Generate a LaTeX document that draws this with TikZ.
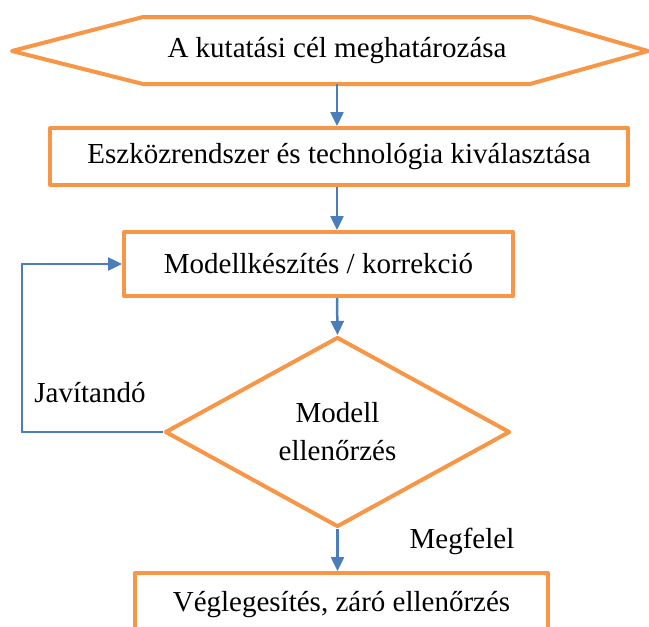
\documentclass[tikz,border=0pt]{standalone}
\usepackage{fontspec}
\setmainfont{Liberation Serif}
\usetikzlibrary{arrows.meta,shapes.geometric}
\definecolor{orng}{HTML}{F79646}
\definecolor{blu}{HTML}{4A7EBB}
\begin{document}
\begin{tikzpicture}[x=1pt,y=-1pt,
  txt/.style={font=\fontsize{29}{38}\selectfont,inner sep=0pt,align=center},
  frame/.style={draw=orng,line width=4pt,line join=round},
  box/.style={frame,txt},
  conn/.style={draw=blu,line width=2.5pt,-{Triangle[length=14pt,width=13pt]}}]
\useasboundingbox (0,0) rectangle (649,627);
% hexagon
\draw[frame] (12,51) -- (143,17) -- (530,17) -- (648,51) -- (530,84) -- (143,84) -- cycle;
\node[txt,minimum height=67] (goal) at (337,50.5) {A kutatási cél meghatározása};
\node[box,minimum width=578,minimum height=57] (tools) at (339,156.5) {Eszközrendszer és technológia kiválasztása};
\node[box,minimum width=389,minimum height=64] (model) at (318.5,264) {Modellkészítés / korrekció};
\node[frame,diamond,minimum width=345,minimum height=190,inner sep=0pt] (check) at (337.5,432) {};
\node[txt] (checktxt) at (check.center) {Modell\\ellenőrzés};
\node[box,minimum width=413,minimum height=64] (final) at (341.5,605) {Véglegesítés, záró ellenőrzés};
\node[txt] (jav) at (90,393) {Javítandó};
\node[txt] (meg) at (462,541) {Megfelel};
\coordinate (lp) at (22,432);
\draw[conn] (goal.south) -- (goal.south |- tools.north);
\draw[conn] (goal.south |- tools.south) -- (goal.south |- model.north);
\draw[conn] (goal.south |- model.south) -- (check.north);
\draw[conn] (check.south) -- (check.south |- final.north);
\draw[conn] (check.west) -- (lp) |- (model.west);
\end{tikzpicture}
\end{document}
